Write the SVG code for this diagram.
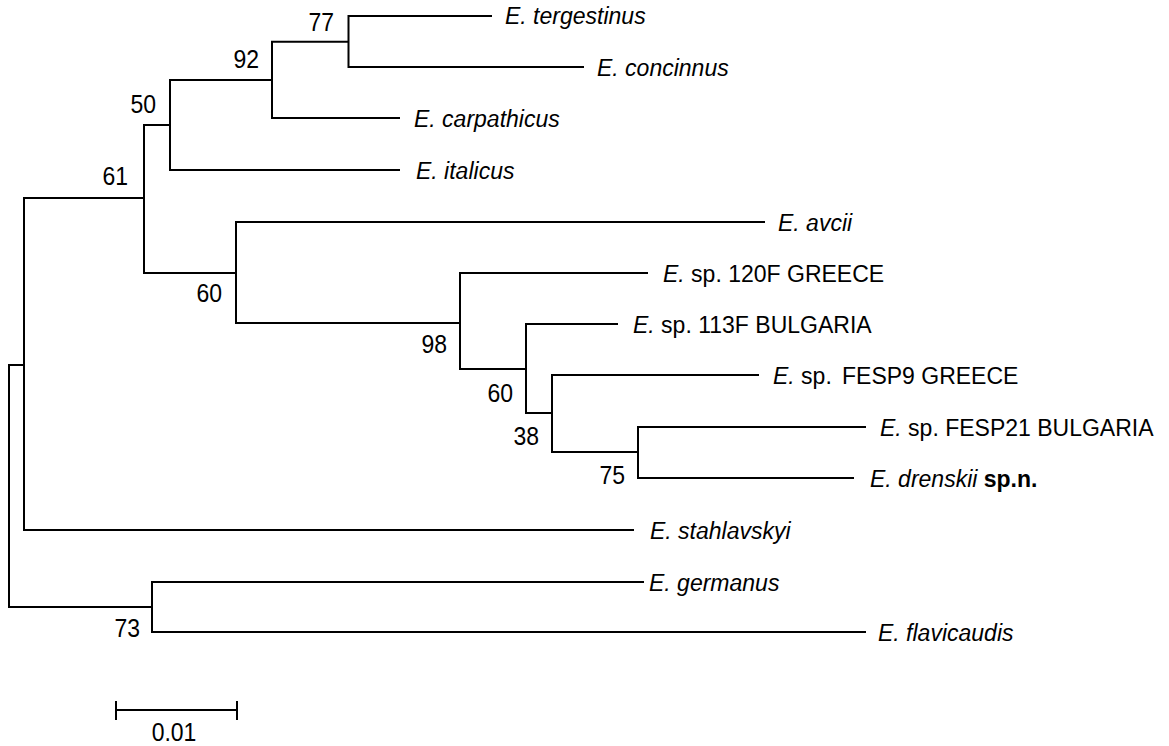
<svg xmlns="http://www.w3.org/2000/svg" width="1169" height="746" viewBox="0 0 1169 746">
<style>
.br{fill:none;stroke:#000;stroke-width:2;stroke-linecap:square}
.tx{font-family:"Liberation Sans",Arial,sans-serif;font-size:23px;fill:#000}
.i{font-style:italic}
.b{font-weight:bold}
.bs{font-family:"Liberation Sans",Arial,sans-serif;font-size:23px;fill:#000;text-anchor:end}
</style>
<rect width="1169" height="746" fill="#fff"/>
<g id="connectors" class="br">
<path d="M9,365V607M9,365H24M24,198V530M24,198H144M144,125V273M144,125H170M170,80V170M170,80H272M272,41.7V118M272,41.7H348.5M348.5,16V67M348.5,16H491M348.5,67H583M272,118H399M170,170H399"/>
<path d="M144,273H236M236,222V323M236,222H764M236,323H460M460,273V369M460,273H647M460,369H526M526,324V413M526,324H617M526,413H552M552,375V452M552,375H758M552,452H638M638,427V478M638,427H865M638,478H853"/>
<path d="M24,530H633M9,607H152M152,582V632M152,582H643M152,632H865"/>
<path d="M116,710H237M116,702V719M237,702V719"/>
</g>
<g id="tip-tergestinus"><text class="tx i" x="505" y="24">E. tergestinus</text></g>
<g id="tip-concinnus"><text class="tx i" x="597" y="76">E. concinnus</text></g>
<g id="tip-carpathicus"><text class="tx i" x="414" y="127">E. carpathicus</text></g>
<g id="tip-italicus"><text class="tx i" x="416" y="179">E. italicus</text></g>
<g id="tip-avcii"><text class="tx i" x="778" y="231">E. avcii</text></g>
<g id="tip-120F"><text class="tx" x="663" y="282"><tspan class="i">E.</tspan> sp. 120F GREECE</text></g>
<g id="tip-113F"><text class="tx" x="633" y="333"><tspan class="i">E.</tspan> sp. 113F BULGARIA</text></g>
<g id="tip-FESP9"><text class="tx" x="773" y="384"><tspan class="i">E.</tspan> sp.<tspan x="842">FESP9 GREECE</tspan></text></g>
<g id="tip-FESP21"><text class="tx" x="880" y="436"><tspan class="i">E.</tspan> sp. FESP21 BULGARIA</text></g>
<g id="tip-drenskii"><text class="tx" x="870" y="487"><tspan class="i">E. drenskii</tspan> <tspan class="b">sp.n.</tspan></text></g>
<g id="tip-stahlavskyi"><text class="tx i" x="650" y="539">E. stahlavskyi</text></g>
<g id="tip-germanus"><text class="tx i" x="649" y="591">E. germanus</text></g>
<g id="tip-flavicaudis"><text class="tx i" x="878" y="641">E. flavicaudis</text></g>
<g id="node-77"><text class="bs" transform="translate(334,31) scale(1,1.15)">77</text></g>
<g id="node-92"><text class="bs" transform="translate(259,68) scale(1,1.15)">92</text></g>
<g id="node-50"><text class="bs" transform="translate(156,113) scale(1,1.15)">50</text></g>
<g id="node-61"><text class="bs" transform="translate(128,185) scale(1,1.15)">61</text></g>
<g id="node-60a"><text class="bs" transform="translate(222,302) scale(1,1.15)">60</text></g>
<g id="node-98"><text class="bs" transform="translate(447,353) scale(1,1.15)">98</text></g>
<g id="node-60b"><text class="bs" transform="translate(513,402) scale(1,1.15)">60</text></g>
<g id="node-38"><text class="bs" transform="translate(539,445) scale(1,1.15)">38</text></g>
<g id="node-75"><text class="bs" transform="translate(625,484) scale(1,1.15)">75</text></g>
<g id="node-73"><text class="bs" transform="translate(140,637) scale(1,1.15)">73</text></g>
<g id="scale"><text class="bs" transform="translate(174,741) scale(1,1.15)" style="text-anchor:middle">0.01</text></g>
</svg>
